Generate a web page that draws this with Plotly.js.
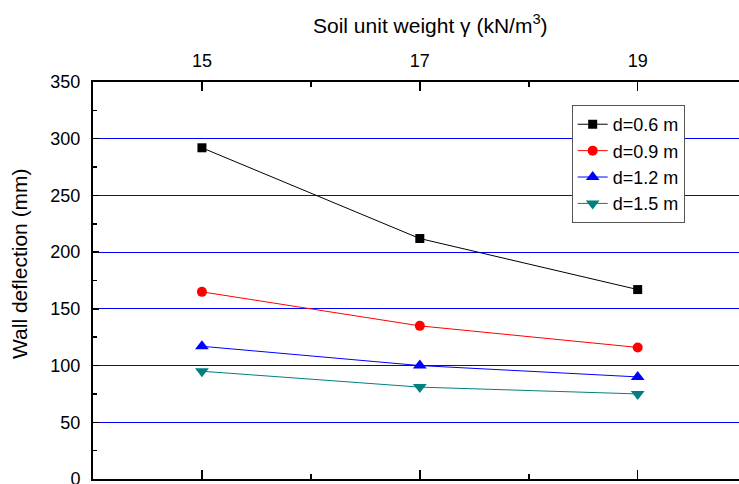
<!DOCTYPE html>
<html><head><meta charset="utf-8">
<script src="https://cdn.plot.ly/plotly-3.0.1.min.js"></script>
<style>html,body{margin:0;padding:0;background:#fff;overflow:hidden}</style>
</head><body><div id="chart" style="width:739px;height:484px"></div>
<script>
const unitWeight = [15, 17, 19];
const seriesNames = ['d=0.6 m', 'd=0.9 m', 'd=1.2 m', 'd=1.5 m'];
const d06 = [292, 212, 167];
const d09 = [165, 135, 116];
const d12 = [117, 100, 90];
const d15 = [95, 81, 75];
const xTicks = [15, 17, 19];
const yTicks = [0, 50, 100, 150, 200, 250, 300, 350];
const xTitle = 'Soil unit weight γ (kN/m<sup>3</sup>)';
const yTitle = 'Wall deflection (mm)';

const colors = ['#000000', '#ff0000', '#0000ff', '#008080'];
const symbols = ['square', 'circle', 'triangle-up', 'triangle-down'];
const sizes = [9, 10, 12, 12];
const data = [d06, d09, d12, d15].map((ys, i) => ({
  x: unitWeight, y: ys, name: seriesNames[i], type: 'scatter', mode: 'lines+markers',
  line: {color: colors[i], width: 1},
  marker: {symbol: symbols[i], size: sizes[i], color: colors[i]},
  xaxis: 'x', yaxis: 'y'
}));
data.push({x: [15], y: [0], xaxis: 'x2', yaxis: 'y', showlegend: false, hoverinfo: 'skip', mode: 'markers', marker: {opacity: 0}});

const fnt = 'Liberation Sans, Arial, sans-serif';
const layout = {
  width: 739, height: 484,
  margin: {l: 93, r: 0, t: 82, b: 5},
  paper_bgcolor: '#fff', plot_bgcolor: '#fff',
  font: {family: fnt, color: '#000', size: 16},
  showlegend: true,
  legend: {x: 0.741, y: 0.942, xanchor: 'left', yanchor: 'top', bgcolor: '#fff',
           bordercolor: '#555', borderwidth: 1, font: {family: fnt, size: 18},
           tracegroupgap: 0, itemwidth: 30},
  xaxis: {side: 'top', range: [14, 19.93], tickvals: xTicks, ticktext: xTicks.map(String),
          ticks: 'inside', ticklen: 9, tickwidth: 1.5, tickcolor: '#000', ticklabelstandoff: 6,
          minor: {dtick: 1, tick0: 14, ticks: 'inside', ticklen: 5, tickwidth: 1.5, tickcolor: '#000'},
          showline: true, linecolor: '#000', linewidth: 2, showgrid: false, zeroline: false,
          tickfont: {size: 18, family: fnt}},
  xaxis2: {side: 'bottom', overlaying: 'x', anchor: 'y', range: [14, 19.93], tickvals: xTicks, showticklabels: false,
          ticks: 'inside', ticklen: 9, tickwidth: 1.5, tickcolor: '#000',
          minor: {dtick: 1, tick0: 14, ticks: 'inside', ticklen: 5, tickwidth: 1.5, tickcolor: '#000'},
          showline: true, linecolor: '#000', linewidth: 2, showgrid: false, zeroline: false},
  yaxis: {range: [0, 350], tickvals: yTicks, ticktext: yTicks.map(String),
          ticks: 'inside', ticklen: 6, tickwidth: 1.5, tickcolor: '#000', ticklabelstandoff: 7,
          ticklabeloverflow: 'allow',
          minor: {dtick: 25, tick0: 0, ticks: 'inside', ticklen: 4, tickwidth: 1.5, tickcolor: '#000'},
          showline: true, linecolor: '#000', linewidth: 2, showgrid: true, gridcolor: '#0000ff', gridwidth: 1,
          zeroline: false, tickfont: {size: 18, family: fnt}},
  annotations: [
    {text: xTitle, xref: 'paper', yref: 'paper', x: 0.5217, y: 1.146, xanchor: 'center', yanchor: 'middle',
     showarrow: false, font: {size: 21, family: fnt}},
    {text: yTitle, xref: 'paper', yref: 'paper', x: -0.113, y: 0.5416, xanchor: 'center', yanchor: 'middle',
     textangle: -90, showarrow: false, font: {size: 21, family: fnt}}
  ]
};
Plotly.newPlot('chart', data, layout, {displayModeBar: false, staticPlot: true});
</script></body></html>
